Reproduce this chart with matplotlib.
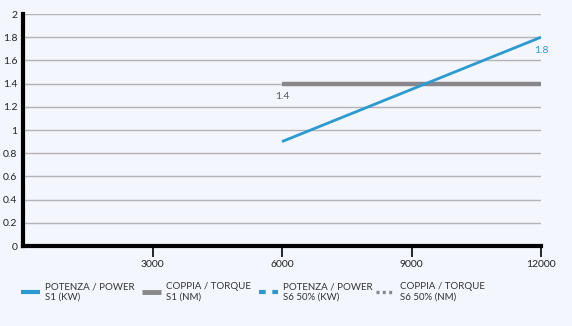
import matplotlib.pyplot as plt
from matplotlib.lines import Line2D

# speed (rpm) vs power / torque
power_rpm = [6000, 12000]
power_kw = [0.9, 1.8]
torque_rpm = [6000, 12000]
torque_nm = [1.4, 1.4]

x_ticks = [3000, 6000, 9000, 12000]
y_ticks = [0, 0.2, 0.4, 0.6, 0.8, 1, 1.2, 1.4, 1.6, 1.8, 2]
legend_labels = [
    "POTENZA / POWER\nS1 (KW)",
    "COPPIA / TORQUE\nS1 (NM)",
    "POTENZA / POWER\nS6 50% (KW)",
    "COPPIA / TORQUE\nS6 50% (NM)",
]

blue = "#2b9ad3"
grey = "#88878c"
bg = "#f3f6fc"

plt.rcParams["font.family"] = ["Lato", "DejaVu Sans"]

W, H = 572, 326
fig = plt.figure(figsize=(W / 100, H / 100), dpi=100, facecolor=bg)
ax = fig.add_axes([23 / W, 1 - 246 / H, 518 / W, 232 / H], facecolor=bg)

for y in y_ticks[1:]:
    ax.axhline(y, color="#b3b3b8", lw=1, zorder=1)

ax.plot(torque_rpm, torque_nm, color=grey, lw=3.2, solid_capstyle="butt", zorder=2)
ax.plot(power_rpm, power_kw, color=blue, lw=2, solid_capstyle="butt", zorder=3)

ax.text(torque_rpm[0], torque_nm[0] - 0.07, f"{torque_nm[0]:g}", color="#555555",
        fontsize=7.5, ha="center", va="top")
ax.text(power_rpm[-1], power_kw[-1] - 0.08, f"{power_kw[-1]:g}", color=blue,
        fontsize=7.5, ha="center", va="top")

ax.set_xlim(0, 12000)
ax.set_ylim(0, 2)
ax.set_xticks(x_ticks)
ax.set_xticklabels([str(v) for v in x_ticks])
ax.set_yticks(y_ticks)
ax.set_yticklabels([f"{v:g}" for v in y_ticks])
ax.tick_params(axis="y", length=0, pad=4, labelsize=7.5, labelcolor="#222222")
ax.tick_params(axis="x", length=8, width=1.2, pad=2, labelsize=7.5, labelcolor="#222222",
               direction="out", color="black")

for side in ["top", "right"]:
    ax.spines[side].set_visible(False)
ax.spines["left"].set_linewidth(3)
ax.spines["bottom"].set_linewidth(3)

# legend drawn by hand along the bottom
styles = [
    dict(color=blue, lw=3),
    dict(color=grey, lw=3.5),
    dict(color=blue, lw=3, ls=(0, (1.6, 1.6))),
    dict(color=grey, lw=2.4, ls=(0, (0.9, 1.0))),
]
starts = [21, 142, 259, 376]
ly = 1 - 292 / H
for x0, st, lab in zip(starts, styles, legend_labels):
    fig.add_artist(Line2D([x0 / W, (x0 + 19) / W], [ly, ly], transform=fig.transFigure,
                          solid_capstyle="butt", dash_capstyle="butt", **st))
    fig.text((x0 + 24) / W, ly, lab, fontsize=7, color="#333333", va="center",
             ha="left", linespacing=1.15)

fig.savefig("out.png", dpi=100, facecolor=bg)
